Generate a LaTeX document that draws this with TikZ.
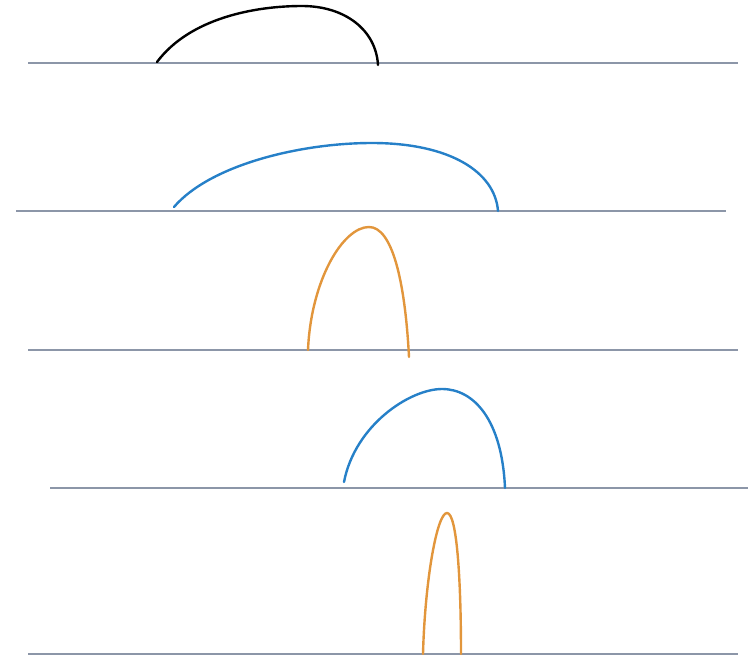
\documentclass[tikz,border=0pt]{standalone}
\definecolor{axisgray}{RGB}{140,150,168}
\definecolor{arcblue}{RGB}{38,128,200}
\definecolor{arcorange}{RGB}{226,150,60}
\begin{document}
\begin{tikzpicture}[x = 1pt, y = -1pt]
	\tikzset{ground/.style = {axisgray, line width = 2pt}, arc/.style = {line width = 2.4pt, line cap = round}}
	\useasboundingbox (0,0) rectangle (748,656);
	\draw [ground] (28,62.5) -- (738,62.5);
	\draw [ground] (16,211) -- (726,211);
	\draw [ground] (28,350) -- (738,350);
	\draw [ground] (50,488) -- (748,488);
	\draw [ground] (28,654) -- (738,654);
	\draw [arc, black] (157,62) .. controls (190,18) and (255,6) .. (302,6) .. controls (345,6) and (376,30) .. (378,65);
	\draw [arc, arcblue] (174,207) .. controls (210,165) and (300,143) .. (372,143) .. controls (450,143) and (495,172) .. (498,211);
	\draw [arc, arcorange] (308,350) .. controls (311,280) and (343,227) .. (369,227) .. controls (392,227) and (405,280) .. (409,357);
	\draw [arc, arcblue] (344,482) .. controls (355,425) and (410,389) .. (442,389) .. controls (474,389) and (502,420) .. (505,488);
	\draw [arc, arcorange] (423,654) .. controls (425,580) and (437,513) .. (447,513) .. controls (457,513) and (461,580) .. (461,654);
\end{tikzpicture}
\end{document}
